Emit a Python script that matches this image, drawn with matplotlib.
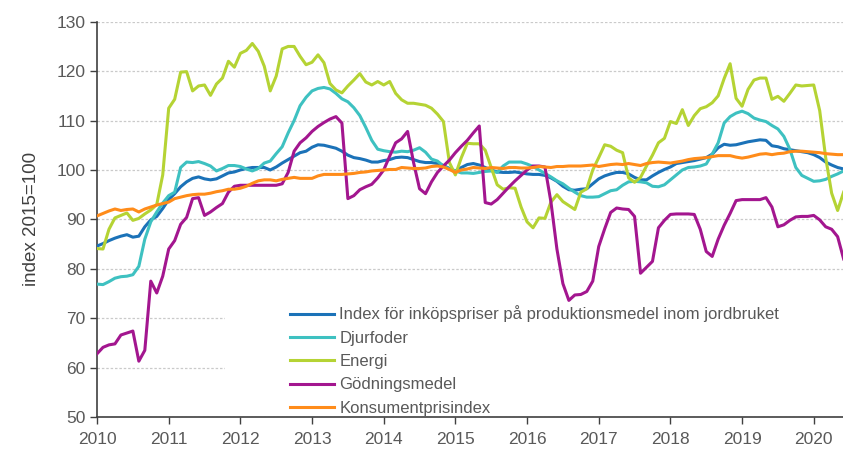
import matplotlib
matplotlib.use("Agg")
import matplotlib.pyplot as plt
from matplotlib.patches import Rectangle
import numpy as np

plt.rcParams['font.family'] = ['Liberation Sans', 'DejaVu Sans']

start_year = 2010
n_months = 126  # Jan 2010 - Jun 2020

labels = [
    "Index för inköpspriser på produktionsmedel inom jordbruket",
    "Djurfoder",
    "Energi",
    "Gödningsmedel",
    "Konsumentprisindex",
]
colors = ["#1B72B8", "#3EC1C1", "#B5D334", "#A3168F", "#FF8C1A"]

index_total = [
    84.6, 85.1, 85.7, 86.2, 86.6, 86.9, 86.4, 86.6, 88.5, 89.9, 90.6, 92.2,
    94.0, 95.2, 96.6, 97.6, 98.3, 98.6, 98.2, 98.0, 98.2, 98.8, 99.4, 99.6,
    100.0, 100.3, 100.5, 100.5, 100.5, 100.0, 100.6, 101.4, 102.1, 102.8, 103.5, 103.8,
    104.6, 105.1, 105.0, 104.7, 104.4, 103.8, 103.0, 102.5, 102.3, 102.0, 101.6, 101.6,
    101.9, 102.1, 102.5, 102.6, 102.5, 102.1, 101.7, 101.5, 101.5, 101.3, 100.9, 100.3,
    99.8, 100.5, 101.1, 101.3, 101.0, 100.5, 100.0, 99.6, 99.5, 99.5, 99.6, 99.4,
    99.2, 99.1, 99.1, 98.9, 98.4, 97.7, 96.7, 96.0, 95.9, 96.1, 96.2, 97.2,
    98.2, 98.8, 99.2, 99.5, 99.5, 99.2, 98.5, 98.0, 98.0, 98.8, 99.5, 100.1,
    100.6, 101.3, 101.5, 101.7, 101.9, 102.2, 102.5, 103.2, 104.5, 105.2, 105.0, 105.1,
    105.4, 105.7, 105.9, 106.1, 106.0, 104.9, 104.7, 104.3, 104.1, 103.9, 103.7, 103.5,
    103.1, 102.5, 101.6, 101.0, 100.5, 100.2,
]

djurfoder = [
    76.9, 76.8, 77.4, 78.1, 78.4, 78.5, 78.8, 80.5, 86.0, 89.5, 91.5, 93.3,
    94.8, 95.5, 100.5, 101.6, 101.5, 101.7, 101.3, 100.8, 99.8, 100.3, 100.9, 100.9,
    100.7, 100.2, 99.8, 100.3, 101.4, 101.8, 103.3, 104.7, 107.5, 110.0, 113.0, 114.7,
    116.0, 116.5, 116.7, 116.4, 115.5, 114.4, 113.8, 112.6, 111.0, 108.6, 106.0, 104.2,
    103.9, 103.7, 103.6, 103.8, 103.7, 104.0, 104.5, 103.6, 102.2, 101.8, 100.8, 100.2,
    99.8, 99.4, 99.4, 99.3, 99.5, 99.7, 99.8, 99.5, 100.8, 101.6, 101.6, 101.6,
    101.2, 100.7, 100.0, 99.3, 98.6, 97.8, 97.2, 96.3, 95.5, 94.8, 94.5, 94.5,
    94.6, 95.2, 95.8, 96.0, 96.9, 97.6, 97.7, 97.6, 97.4, 96.7, 96.6, 97.0,
    98.0, 99.0, 100.0, 100.5, 100.6, 100.8, 101.2, 103.2, 105.5, 109.5, 110.8, 111.5,
    111.9, 111.4, 110.5, 110.1, 109.8, 109.0, 108.3, 106.8, 104.2, 100.5, 98.9, 98.3,
    97.7, 97.8, 98.1, 98.7, 99.2, 99.8,
]

energi = [
    84.1, 84.0, 88.0, 90.3, 90.8, 91.3, 89.8, 90.2, 91.1, 91.9, 93.0, 99.0,
    112.5, 114.3, 119.8, 119.9, 116.0, 117.0, 117.2, 115.1, 117.4, 118.6, 122.0, 120.8,
    123.6, 124.2, 125.6, 124.0, 121.0, 116.0, 119.0, 124.5, 125.0, 125.0, 123.0, 121.3,
    121.8, 123.3, 121.7, 117.5, 116.2, 115.6, 117.0, 118.2, 119.5, 117.8, 117.2, 117.9,
    117.2, 117.9, 115.5, 114.2, 113.5, 113.5, 113.3, 113.1, 112.5, 111.3, 109.8, 101.5,
    99.0, 102.5, 105.4, 105.3, 105.3, 104.0, 100.5, 97.0, 96.1, 96.4, 96.3, 92.5,
    89.5, 88.3, 90.3, 90.2, 93.5, 95.0, 93.6, 92.8, 92.0, 95.5, 96.2, 100.0,
    102.5, 105.1, 104.8, 104.0, 103.5, 98.4, 97.5, 98.5, 100.8, 103.0, 105.5, 106.4,
    109.8, 109.4, 112.2, 109.0, 111.0, 112.4, 112.8, 113.6, 115.0, 118.5, 121.5, 114.5,
    112.9, 116.3, 118.2, 118.6, 118.6, 114.3, 114.9, 113.9, 115.5, 117.2, 117.0, 117.1,
    117.2, 112.0, 102.5, 95.3, 91.8, 95.5,
]

godning = [
    62.8, 64.1, 64.6, 64.8, 66.6, 67.0, 67.4, 61.3, 63.5, 77.5, 75.1, 78.5,
    84.0, 85.7, 89.0, 90.4, 94.2, 94.4, 90.8, 91.5, 92.4, 93.2, 95.5, 96.7,
    96.9, 96.9, 96.9, 96.9, 96.9, 96.9, 96.9, 97.2, 99.5, 103.8, 105.5, 106.5,
    107.8, 108.8, 109.6, 110.3, 110.8, 109.5, 94.2, 94.8, 96.0, 96.6, 97.1, 98.4,
    100.0, 102.8, 105.5, 106.3, 107.8, 101.5, 96.2, 95.2, 97.6, 99.5, 100.8, 102.0,
    103.5, 104.8, 106.0, 107.5, 108.9, 93.4, 93.1, 94.0, 95.3, 96.6, 97.8, 98.9,
    100.0, 100.8, 100.8, 100.6, 93.5, 84.0, 77.0, 73.6, 74.7, 74.8, 75.4, 77.5,
    84.5, 88.1, 91.4, 92.3, 92.1, 92.0, 90.6, 79.1, 80.3, 81.5, 88.3, 89.8,
    91.0, 91.1, 91.1, 91.1, 91.0, 88.0, 83.5, 82.5, 86.0, 88.8, 91.2, 93.8,
    94.0, 94.0, 94.0, 94.0, 94.4, 92.5, 88.5, 88.9, 89.8, 90.5, 90.6, 90.6,
    90.8, 89.9, 88.5, 88.0, 86.5, 82.0,
]

kpi = [
    90.7, 91.2, 91.7, 92.1, 91.8, 92.0, 92.1, 91.5, 92.1, 92.5, 92.9, 93.2,
    93.5, 94.2, 94.5, 94.8, 95.0, 95.1, 95.1, 95.3, 95.6, 95.8, 96.1, 96.1,
    96.3, 96.7, 97.3, 97.8, 98.0, 98.0, 97.8, 98.1, 98.3, 98.5, 98.3, 98.3,
    98.3, 98.8, 99.1, 99.1, 99.1, 99.1, 99.2, 99.3, 99.5, 99.6, 99.8, 99.9,
    100.0, 100.1, 100.1, 100.5, 100.4, 100.3, 100.3, 100.4, 100.7, 100.8, 100.6, 100.1,
    99.5, 100.0, 100.2, 100.5, 100.4, 100.3, 100.5, 100.4, 100.3, 100.5, 100.5, 100.4,
    100.4, 100.5, 100.7, 100.6, 100.5, 100.7, 100.7, 100.8, 100.8, 100.8, 100.9, 101.0,
    100.7, 100.9, 101.1, 101.2, 101.1, 101.3, 101.1, 100.9, 101.3, 101.5, 101.6, 101.5,
    101.4, 101.6, 101.8, 102.1, 102.3, 102.4, 102.5, 102.7, 102.9, 102.9, 102.9, 102.6,
    102.4, 102.6, 102.9, 103.2, 103.3, 103.1, 103.3, 103.4, 103.7, 103.8, 103.8, 103.7,
    103.6, 103.5, 103.3, 103.2, 103.1, 103.1,
]

year_ticks = list(range(2010, 2021))
y_ticks = list(range(50, 131, 10))

series = [index_total, djurfoder, energi, godning, kpi]
x = start_year + np.arange(n_months) / 12.0

fig = plt.figure(figsize=(8.43, 4.5), dpi=100)
ax = fig.add_axes([0.1151, 0.0733, 0.8849, 0.8784])

text_color = "#595959"

for vals, lab, col in zip(series, labels, colors):
    ax.plot(x, vals, color=col, lw=2.2, label=lab, solid_joinstyle="round", zorder=3)

ax.set_xlim(start_year, start_year + (n_months - 1.1) / 12.0)
ax.set_ylim(50, 130)
ax.set_xticks(year_ticks)
ax.set_yticks(y_ticks)
ax.tick_params(axis="both", direction="out", length=5, width=1, colors="#404040",
               labelcolor=text_color, labelsize=12.5)
ax.tick_params(axis="x", pad=6)

for s in ["top", "right"]:
    ax.spines[s].set_visible(False)
for s in ["left", "bottom"]:
    ax.spines[s].set_color("#404040")
    ax.spines[s].set_linewidth(1.2)

ax.yaxis.grid(True, linestyle=(0, (2, 1.5)), color="#CACACA", lw=0.9, zorder=0)
ax.set_axisbelow(True)

# white area behind the legend hides the lower gridlines
ax.add_patch(Rectangle((0.1716, 0.004), 0.83, 0.30, transform=ax.transAxes,
                       facecolor="white", edgecolor="none", zorder=1))

ax.set_ylabel("index 2015=100", fontsize=13.5, color="#404040", labelpad=12)

leg = ax.legend(loc="upper left", bbox_to_anchor=(0.2587, 0.282), frameon=False,
                fontsize=12, handlelength=2.65, handletextpad=0.3, labelspacing=0.5,
                borderpad=0, borderaxespad=0)
for t in leg.get_texts():
    t.set_color(text_color)
leg.set_zorder(4)

fig.savefig("out.png", dpi=100)
